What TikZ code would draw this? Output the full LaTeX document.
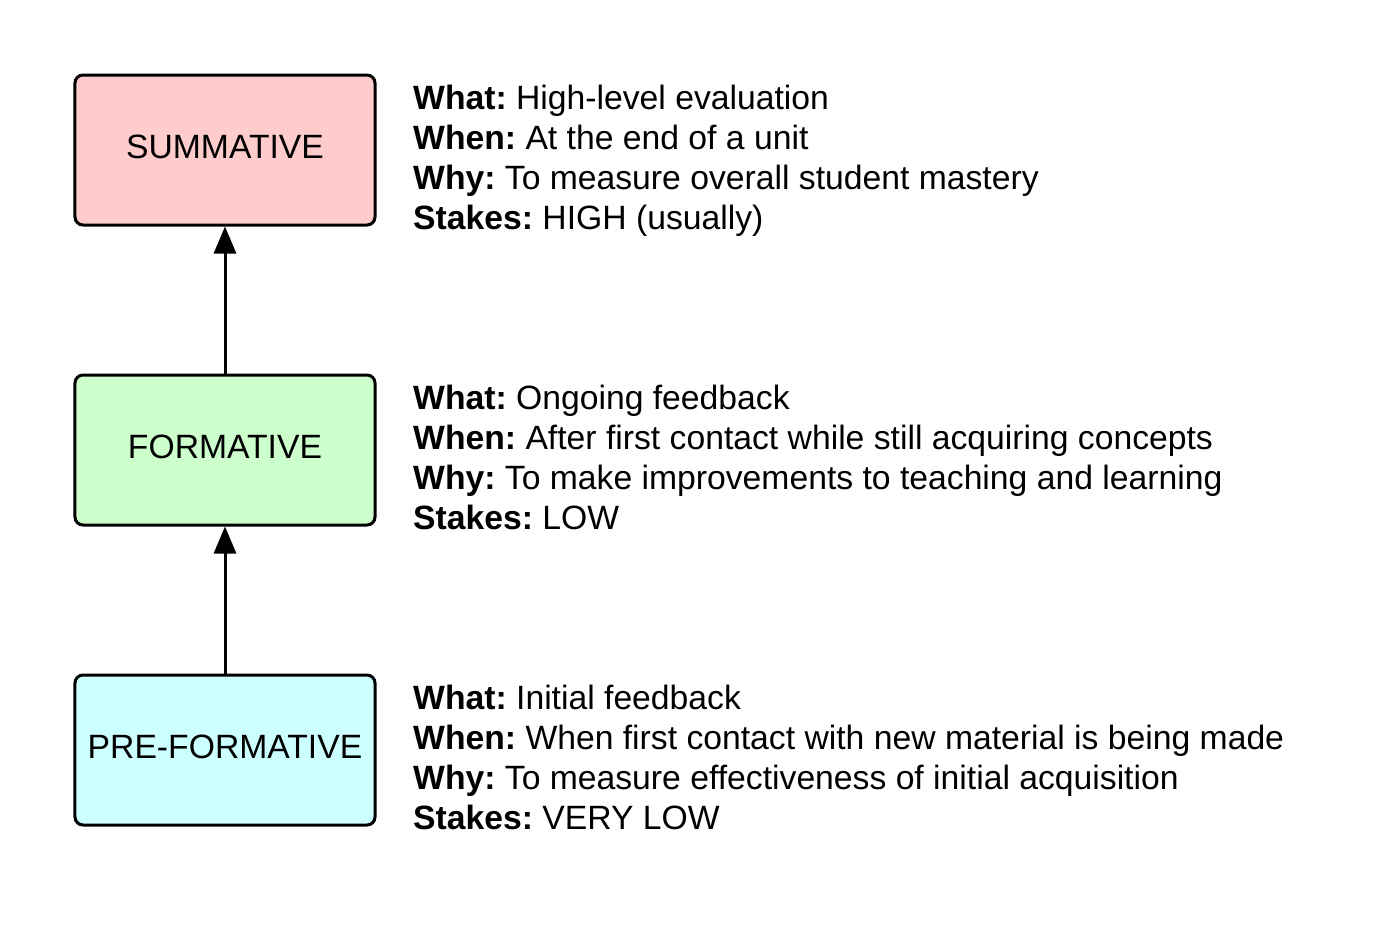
\documentclass[tikz,border=0pt]{standalone}
\usepackage{fontspec}
\setmainfont{Liberation Sans}
\usetikzlibrary{arrows.meta}
\definecolor{summfill}{HTML}{FFCCCC}
\definecolor{formfill}{HTML}{CCFFCC}
\definecolor{prefill}{HTML}{CCFFFF}
\frenchspacing
\begin{document}
\begin{tikzpicture}[x=1bp,y=-1bp,
  stagebox/.style={draw=black, line width=3bp, rounded corners=8bp,
    minimum width=300bp, minimum height=150bp, inner sep=0pt,
    font=\fontsize{33.7bp}{40bp}\selectfont, text height=16bp, text depth=0pt},
  infotext/.style={anchor=base west, align=left, inner sep=0pt,
    font=\fontsize{33.7bp}{40bp}\selectfont},
  uparrow/.style={line width=3bp, -{Triangle[width=22bp,length=27bp]}}]
\useasboundingbox (0,0) rectangle (1388,926);
\fill[white] (0,0) rectangle (1388,926);

% the three assessment stages
\node[stagebox, fill=summfill] (summ) at (225,150) {SUMMATIVE};
\node[stagebox, fill=formfill] (form) at (225,450) {FORMATIVE};
\node[stagebox, fill=prefill]  (pre)  at (225,750) {PRE-FORMATIVE};

% progression arrows
\draw[uparrow] (form.north) -- (summ.south);
\draw[uparrow] (pre.north) -- (form.south);

% descriptions (anchored at the baseline of their last line)
\node[infotext] (summinfo) at (413,229) {\textbf{What:} High-level evaluation\\
\textbf{When:} At the end of a unit\\
\textbf{Why:} To measure overall student mastery\\
\textbf{Stakes:} HIGH (usually)};
\node[infotext] (forminfo) at (413,529) {\textbf{What:} Ongoing feedback\\
\textbf{When:} After first contact while still acquiring concepts\\
\textbf{Why:} To make improvements to teaching and learning\\
\textbf{Stakes:} LOW};
\node[infotext] (preinfo) at (413,829) {\textbf{What:} Initial feedback\\
\textbf{When:} When first contact with new material is being made\\
\textbf{Why:} To measure effectiveness of initial acquisition\\
\textbf{Stakes:} VERY LOW};
\end{tikzpicture}
\end{document}
